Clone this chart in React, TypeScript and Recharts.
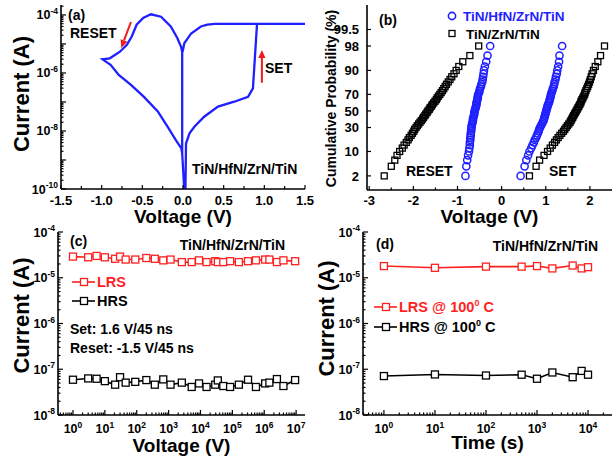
import React from 'react';
import {
  LineChart,
  Line,
  ScatterChart,
  Scatter,
  XAxis,
  YAxis,
  Legend,
  ReferenceLine,
} from 'recharts';

const FONT = '"Liberation Sans", Arial, Helvetica, sans-serif';
const BLUE = '#1f1fff';
const RED = '#ff1f1f';
const ARROW_RED = '#ee1c1c';
const AXIS = { stroke: '#000', strokeWidth: 1.6 };

// (a) I-V sweep, points in sweep order
const ivVoltage = [
  -0.01, -0.01, -0.025, -0.07, -0.15, -0.27, -0.395, -0.49, -0.57, -0.63, -0.69, -0.775, -0.9, -0.99,
  -0.89, -0.79, -0.64, -0.48, -0.31, -0.19, -0.09, -0.02, -0.01, 0.015, 0.03, 0.037, 0.08, 0.14, 0.26,
  0.43, 0.63, 0.8, 0.86, 0.91, 1.5, 0.39, 0.3, 0.22, 0.1, 0.016, -0.005,
];
const ivCurrent = [
  1.7e-9, 5.4e-6, 8.1e-6, 1.6e-5, 4e-5, 8.7e-5, 1.05e-4, 7.8e-5, 4.6e-5, 1.8e-5, 9.3e-6, 5.4e-6, 3.2e-6, 2.95e-6,
  1.9e-6, 8.5e-7, 3.9e-7, 1.5e-7, 4.7e-8, 1.4e-8, 4.9e-9, 2.5e-9, 1.7e-9, 1e-10, 1e-10, 3.7e-9, 8.3e-9, 1.4e-8, 3.1e-8,
  6.9e-8, 1.02e-7, 1.5e-7, 2.95e-7, 4.9e-5, 4.9e-5, 4.9e-5, 4.6e-5, 4e-5, 2.3e-5, 1.05e-5, 5.4e-6,
];
const aXMajor = [-1.5, -1, -0.5, 0, 0.5, 1, 1.5];
const aXLabels = ['-1.5', '-1.0', '-0.5', '0.0', '0.5', '1.0', '1.5'];
const aYLabelExp = [-10, -8, -6, -4];

// (b) cumulative probability (%) of switching voltages
const cumProb = [
  2, 4, 6, 8, 10, 12, 14, 16, 18, 20, 22, 24, 26, 28, 30, 32, 34, 36, 38, 40, 42, 44, 46, 48, 50,
  52, 54, 56, 58, 60, 62, 64, 66, 68, 70, 72, 74, 76, 78, 80, 82, 84, 86, 88, 90, 92, 94, 96, 98,
];
const hfnReset = [
  -0.82, -0.8, -0.78, -0.76, -0.74, -0.73, -0.72, -0.72, -0.71, -0.71, -0.7, -0.7, -0.69, -0.69, -0.68, -0.68, -0.67,
  -0.66, -0.65, -0.65, -0.64, -0.63, -0.62, -0.62, -0.61, -0.6, -0.59, -0.58, -0.57, -0.57, -0.56, -0.55, -0.54,
  -0.54, -0.53, -0.51, -0.5, -0.49, -0.47, -0.46, -0.44, -0.43, -0.42, -0.41, -0.4, -0.38, -0.35, -0.32, -0.26,
];
const hfnSet = [
  0.43, 0.52, 0.56, 0.6, 0.63, 0.67, 0.7, 0.73, 0.75, 0.78, 0.8, 0.82, 0.84, 0.85, 0.87, 0.89, 0.91, 0.93, 0.95,
  0.96, 0.97, 0.98, 0.99, 1.0, 1.01, 1.02, 1.03, 1.04, 1.05, 1.07, 1.08, 1.09, 1.1, 1.11, 1.12, 1.13, 1.15, 1.16,
  1.18, 1.19, 1.2, 1.22, 1.23, 1.25, 1.26, 1.28, 1.3, 1.31, 1.37,
];
const zrnReset = [
  -2.66, -2.5, -2.42, -2.37, -2.31, -2.25, -2.21, -2.16, -2.12, -2.09, -2.05, -2.02, -1.99, -1.97, -1.94, -1.91,
  -1.88, -1.85, -1.82, -1.79, -1.77, -1.74, -1.72, -1.69, -1.67, -1.64, -1.62, -1.59, -1.57, -1.54, -1.51, -1.48,
  -1.46, -1.43, -1.4, -1.37, -1.34, -1.31, -1.28, -1.25, -1.21, -1.17, -1.13, -1.08, -1.03, -0.97, -0.88, -0.72, -0.52,
];
const zrnSet = [
  0.63, 0.78, 0.86, 0.96, 1.04, 1.1, 1.15, 1.2, 1.24, 1.28, 1.32, 1.36, 1.4, 1.43, 1.46, 1.49, 1.52, 1.55, 1.57,
  1.59, 1.61, 1.63, 1.65, 1.67, 1.69, 1.71, 1.73, 1.75, 1.77, 1.79, 1.8, 1.82, 1.84, 1.86, 1.88, 1.89, 1.91, 1.93,
  1.95, 1.97, 1.99, 2.01, 2.03, 2.05, 2.08, 2.12, 2.18, 2.24, 2.33,
];
const probTicks = [2, 10, 30, 50, 70, 90, 98, 99.5];
const probTickLabels = ['2', '10', '30', '50', '70', '90', '98', '99.5'];
const bXMajor = [-3, -2, -1, 0, 1, 2];
const bXLabels = ['-3', '-2', '-1', '0', '1', '2'];

// (c) endurance
const cycles = [
  1, 3, 5.5, 10, 21, 30, 45, 90, 200, 370, 680, 1150, 2600, 5300, 9000, 15500, 29000, 35000, 52000, 85000,
  160000, 310000, 550000, 1070000, 1450000, 2500000, 4000000, 9300000,
];
const enduranceLrs = [
  2.9e-5, 2.8e-5, 3.0e-5, 2.8e-5, 2.6e-5, 2.9e-5, 2.5e-5, 2.5e-5, 2.7e-5, 2.6e-5, 2.4e-5, 2.5e-5, 2.2e-5, 2.2e-5,
  2.4e-5, 2.2e-5, 2.3e-5, 2.2e-5, 2.2e-5, 2.3e-5, 2.2e-5, 2.3e-5, 2.4e-5, 2.5e-5, 2.5e-5, 2.2e-5, 2.4e-5, 2.3e-5,
];
const enduranceHrs = [
  5.9e-8, 6.3e-8, 6.2e-8, 5.5e-8, 4.6e-8, 6.7e-8, 5.1e-8, 5.3e-8, 5.8e-8, 4.6e-8, 6.0e-8, 4.6e-8, 5.1e-8, 4.1e-8,
  4.9e-8, 4.1e-8, 4.6e-8, 5.7e-8, 4.3e-8, 4.1e-8, 4.6e-8, 5.9e-8, 4.1e-8, 4.9e-8, 5.1e-8, 6.1e-8, 4.3e-8, 5.8e-8,
];

// (d) retention at 100 C
const retentionTime = [1, 10, 100, 500, 1000, 2000, 5000, 7500, 10000];
const retentionLrs = [1.8e-5, 1.65e-5, 1.75e-5, 1.75e-5, 1.8e-5, 1.6e-5, 1.85e-5, 1.6e-5, 1.7e-5];
const retentionHrs = [7.1e-8, 7.7e-8, 7.3e-8, 7.6e-8, 6.2e-8, 8.5e-8, 6.7e-8, 9.2e-8, 7.6e-8];

// inverse normal CDF (probability axis)
function probit(p: number): number {
  const a = [-39.69683028665376, 220.9460984245205, -275.9285104469687, 138.357751867269, -30.66479806614716, 2.506628277459239];
  const b = [-54.47609879822406, 161.5858368580409, -155.6989798598866, 66.80131188771972, -13.28068155305798];
  const c = [-0.007784894002430293, -0.3223964580411365, -2.400758277161838, -2.549732539343734, 4.374664141464968, 2.938163982698783];
  const d = [0.007784695709041462, 0.3224671290700398, 2.445134137142996, 3.754408661907416];
  const lo = 0.02425;
  if (p < lo) {
    const q = Math.sqrt(-2 * Math.log(p));
    return (((((c[0] * q + c[1]) * q + c[2]) * q + c[3]) * q + c[4]) * q + c[5]) / ((((d[0] * q + d[1]) * q + d[2]) * q + d[3]) * q + 1);
  }
  if (p <= 1 - lo) {
    const q = p - 0.5;
    const r = q * q;
    return ((((((a[0] * r + a[1]) * r + a[2]) * r + a[3]) * r + a[4]) * r + a[5]) * q) /
      (((((b[0] * r + b[1]) * r + b[2]) * r + b[3]) * r + b[4]) * r + 1);
  }
  const q = Math.sqrt(-2 * Math.log(1 - p));
  return -(((((c[0] * q + c[1]) * q + c[2]) * q + c[3]) * q + c[4]) * q + c[5]) / ((((d[0] * q + d[1]) * q + d[2]) * q + d[3]) * q + 1);
}

const isDecade = (v: number) => Math.abs(Math.log10(v) - Math.round(Math.log10(v))) < 1e-6;
const logTicks = (lo: number, hi: number, min: number, max: number) => {
  const out: number[] = [];
  for (let e = lo; e <= hi; e++) for (let m = 1; m < 10; m++) out.push(m * Math.pow(10, e));
  return out.filter((t) => t >= min * 0.9999 && t <= max * 1.0001);
};
const withHalves = (major: number[], step: number) =>
  major.flatMap((t, i) => (i < major.length - 1 ? [t, t + step] : [t]));

const pow10 = (v: number) => (
  <>
    10
    <tspan dy={-5.5} fontSize={8.5}>
      {Math.round(Math.log10(v))}
    </tspan>
  </>
);

type Side = 'left' | 'right' | 'top' | 'bottom';
interface TickCfg {
  side: Side;
  major: (v: number) => boolean;
  label?: (v: number) => React.ReactNode | null;
  majorLen?: number;
  minorLen?: number;
  gap?: number;
  fontSize?: number;
}

const makeTick = (cfg: TickCfg) => (props: any) => {
  const { x, y, payload } = props;
  const v = payload.value;
  const big = cfg.major(v);
  const len = big ? cfg.majorLen ?? 5 : cfg.minorLen ?? 2.5;
  const dx = cfg.side === 'left' ? len : cfg.side === 'right' ? -len : 0;
  const dy = cfg.side === 'top' ? len : cfg.side === 'bottom' ? -len : 0;
  const lab = big && cfg.label ? cfg.label(v) : null;
  const fs = cfg.fontSize ?? 13;
  const gap = cfg.gap ?? 3;
  return (
    <g>
      <line x1={x} y1={y} x2={x + dx} y2={y + dy} stroke="#000" strokeWidth={1.2} />
      {lab != null && cfg.side === 'left' && (
        <text x={x - gap} y={y + fs * 0.36} textAnchor="end" fontFamily={FONT} fontWeight="bold" fontSize={fs} fill="#000">
          {lab}
        </text>
      )}
      {lab != null && cfg.side === 'bottom' && (
        <text x={x} y={y + gap} textAnchor="middle" fontFamily={FONT} fontWeight="bold" fontSize={fs} fill="#000">
          {lab}
        </text>
      )}
    </g>
  );
};

const yTitle = (text: string, cx: number, dy: number, size: number) => (props: any) => {
  const vb = props.viewBox;
  const x = vb.x + cx;
  const y = vb.y + vb.height / 2 + dy;
  return (
    <text x={x} y={y} transform={`rotate(-90 ${x} ${y})`} textAnchor="middle" dominantBaseline="central"
      fontFamily={FONT} fontWeight="bold" fontSize={size} fill="#000">
      {text}
    </text>
  );
};

const xTitle = (text: string, dx: number, baseline: number, size: number) => (props: any) => {
  const vb = props.viewBox;
  return (
    <text x={vb.x + vb.width / 2 + dx} y={vb.y + baseline} textAnchor="middle" fontFamily={FONT} fontWeight="bold"
      fontSize={size} fill="#000">
      {text}
    </text>
  );
};

const arrowShape = (p: any) => {
  const { x1, y1, x2, y2 } = p;
  const ang = Math.atan2(y2 - y1, x2 - x1);
  const L = 8;
  const W = 3.6;
  const bx = x2 - L * Math.cos(ang);
  const by = y2 - L * Math.sin(ang);
  const px = -Math.sin(ang) * W;
  const py = Math.cos(ang) * W;
  return (
    <g>
      <line x1={x1} y1={y1} x2={bx} y2={by} stroke={ARROW_RED} strokeWidth={2} />
      <polygon points={`${x2},${y2} ${bx + px},${by + py} ${bx - px},${by - py}`} fill={ARROW_RED} />
    </g>
  );
};

function PanelA() {
  const data = ivVoltage.map((v, i) => ({ v, i: ivCurrent[i] }));
  const xTicks = withHalves(aXMajor, 0.25);
  const yTicks = logTicks(-10, -4, 1e-10, 2.2e-4);
  const isXMajor = (v: number) => aXMajor.includes(v);
  const xLab = (v: number) => aXLabels[aXMajor.indexOf(v)];
  const yLab = (v: number) => (aYLabelExp.includes(Math.round(Math.log10(v))) ? pow10(v) : null);
  return (
    <div style={{ position: 'absolute', left: 0, top: 0 }}>
      <LineChart width={320} height={228} data={data} margin={{ top: 5, right: 15, bottom: 0, left: 0 }}>
        <XAxis dataKey="v" type="number" domain={[-1.5, 1.5]} allowDataOverflow ticks={xTicks} interval={0}
          tickSize={0} tickMargin={0} tickLine={false} height={39} axisLine={AXIS}
          tick={makeTick({ side: 'bottom', major: isXMajor, label: xLab, majorLen: 4, minorLen: 3, gap: 16 })}
          label={xTitle('Voltage (V)', 0, 34, 19)} />
        <XAxis xAxisId="top" orientation="top" type="number" domain={[-1.5, 1.5]} allowDataOverflow ticks={xTicks}
          interval={0} tickSize={0} tickMargin={0} tickLine={false} height={0} axisLine={AXIS}
          tick={makeTick({ side: 'top', major: isXMajor, majorLen: 4, minorLen: 3 })} />
        <YAxis type="number" scale="log" domain={[1e-10, 2.2e-4]} allowDataOverflow ticks={yTicks} interval={0}
          tickSize={0} tickMargin={0} tickLine={false} width={61} axisLine={AXIS}
          tick={makeTick({ side: 'left', major: isDecade, label: yLab, fontSize: 12.5, gap: 3 })}
          label={yTitle('Current (A)', 21, -3, 22)} />
        <YAxis yAxisId="right" orientation="right" type="number" scale="log" domain={[1e-10, 2.2e-4]} allowDataOverflow
          ticks={yTicks} interval={0} tickSize={0} tickMargin={0} tickLine={false} width={0} axisLine={AXIS}
          tick={makeTick({ side: 'right', major: isDecade })} />
        <Line dataKey="i" type="linear" stroke={BLUE} strokeWidth={2.3} dot={false} isAnimationActive={false} />
        <ReferenceLine segment={[{ x: -0.64, y: 5.7e-5 }, { x: -0.76, y: 7.3e-6 }]} shape={arrowShape} />
        <ReferenceLine segment={[{ x: 0.97, y: 4.6e-7 }, { x: 0.97, y: 6.2e-6 }]} shape={arrowShape} />
      </LineChart>
    </div>
  );
}

const seriesB: Record<string, { marker: 'circle' | 'square'; color: string; order: number }> = {
  'TiN/HfN/ZrN/TiN': { marker: 'circle', color: BLUE, order: 0 },
  'TiN/ZrN/TiN': { marker: 'square', color: '#000', order: 1 },
};

const legendB = (props: any) => {
  const items = [...(props.payload ?? [])].sort((a: any, b: any) => seriesB[a.value].order - seriesB[b.value].order);
  return (
    <svg width={170} height={40} style={{ display: 'block', overflow: 'visible' }}>
      {items.map((e: any, i: number) => {
        const s = seriesB[e.value];
        const y = 11 + i * 17.5;
        return (
          <g key={e.value}>
            {s.marker === 'circle' ? (
              <circle cx={7} cy={y} r={3.6} fill="none" stroke={s.color} strokeWidth={1.6} />
            ) : (
              <rect x={4} y={y - 3} width={6} height={6} fill="none" stroke={s.color} strokeWidth={1.3} />
            )}
            <text x={18 + i * 3} y={y + 5} fontFamily={FONT} fontWeight="bold" fontSize={13.5} fill={s.color}>
              {e.value}
            </text>
          </g>
        );
      })}
    </svg>
  );
};

function PanelB() {
  const toPoints = (volts: number[]) => volts.map((v, i) => ({ v, z: probit(cumProb[i] / 100) }));
  const hfn = [...toPoints(hfnReset), ...toPoints(hfnSet)];
  const zrn = [...toPoints(zrnReset), ...toPoints(zrnSet)];
  const xTicks = withHalves(bXMajor, 0.5);
  const yTicks = probTicks.map((p) => probit(p / 100));
  const isXMajor = (v: number) => bXMajor.includes(v);
  const xLab = (v: number) => bXLabels[bXMajor.indexOf(v)];
  const yLab = (v: number) => {
    const i = yTicks.findIndex((t) => Math.abs(t - v) < 1e-6);
    return i >= 0 ? probTickLabels[i] : null;
  };
  const domX: [number, number] = [-3.05, 2.5];
  const domY: [number, number] = [-2.5, 3.35];
  return (
    <div style={{ position: 'absolute', left: 305, top: 0 }}>
      <ScatterChart width={310} height={228} margin={{ top: 5, right: 3, bottom: 0, left: 0 }}>
        <XAxis dataKey="v" type="number" domain={domX} allowDataOverflow ticks={xTicks} interval={0} tickSize={0}
          tickMargin={0} tickLine={false} height={38} axisLine={AXIS}
          tick={makeTick({ side: 'bottom', major: isXMajor, label: xLab, majorLen: 4, minorLen: 2.5, gap: 15 })}
          label={xTitle('Voltage (V)', 0, 33, 19)} />
        <XAxis xAxisId="top" orientation="top" type="number" domain={domX} allowDataOverflow ticks={xTicks} interval={0}
          tickSize={0} tickMargin={0} tickLine={false} height={0} axisLine={AXIS}
          tick={makeTick({ side: 'top', major: isXMajor, majorLen: 4, minorLen: 2.5 })} />
        <YAxis dataKey="z" type="number" domain={domY} allowDataOverflow ticks={yTicks} interval={0} tickSize={0}
          tickMargin={0} tickLine={false} width={62} axisLine={AXIS}
          tick={makeTick({ side: 'left', major: () => true, label: yLab, majorLen: 4, gap: 8 })}
          label={yTitle('Cumulative Probability (%)', 26, 1, 14)} />
        <YAxis yAxisId="right" orientation="right" type="number" domain={domY} allowDataOverflow ticks={yTicks}
          interval={0} tickSize={0} tickMargin={0} tickLine={false} width={0} axisLine={AXIS}
          tick={makeTick({ side: 'right', major: () => true, majorLen: 4 })} />
        <Scatter name="TiN/HfN/ZrN/TiN" data={hfn} fill={BLUE} isAnimationActive={false}
          shape={(p: any) => <circle cx={p.cx} cy={p.cy} r={3.6} fill="none" stroke={BLUE} strokeWidth={1.5} />} />
        <Scatter name="TiN/ZrN/TiN" data={zrn} fill="#000" isAnimationActive={false}
          shape={(p: any) => (
            <rect x={p.cx - 3} y={p.cy - 3} width={6} height={6} fill="none" stroke="#000" strokeWidth={1.3} />
          )} />
        <Legend layout="vertical" align="center" verticalAlign="middle" content={legendB}
          wrapperStyle={{ left: 140, top: 5, width: 170, height: 40 }} />
      </ScatterChart>
    </div>
  );
}

const lineLegend = (order: string[], rowGap: number) => (props: any) => {
  const items = [...(props.payload ?? [])].sort((a: any, b: any) => order.indexOf(a.value) - order.indexOf(b.value));
  return (
    <svg width={200} height={46} style={{ display: 'block', overflow: 'visible' }}>
      {items.map((e: any, i: number) => {
        const y = 12 + i * rowGap;
        const parts = String(e.value).split('⁰');
        return (
          <g key={e.value}>
            <line x1={2} y1={y} x2={25} y2={y} stroke={e.color} strokeWidth={1.6} />
            <rect x={10.5} y={y - 3.5} width={7} height={7} fill="#fff" stroke={e.color} strokeWidth={1.3} />
            <text x={27} y={y + 5} fontFamily={FONT} fontWeight="bold" fontSize={14.5} fill={e.color}>
              {parts[0]}
              {parts.length > 1 && (
                <>
                  <tspan dy={-6} fontSize={9}>0</tspan>
                  <tspan dy={6}>{parts[1]}</tspan>
                </>
              )}
            </text>
          </g>
        );
      })}
    </svg>
  );
};

const squareDot = (color: string) => (p: any) => (
  <rect key={`d${p.index}`} x={p.cx - 3.5} y={p.cy - 3.5} width={7} height={7} fill="#fff" stroke={color}
    strokeWidth={1.3} />
);

interface LogPanelProps {
  left: number;
  xs: number[];
  lrs: number[];
  hrs: number[];
  lrsName: string;
  hrsName: string;
  xDomain: [number, number];
  xExp: [number, number];
  xTitleText: string;
  titleBaseline: number;
  marginRight: number;
  legendPos: { left: number; top: number };
  rowGap: number;
  yTitleDy: number;
}

const PANEL_TOP = 212;

function LogPanel(p: LogPanelProps) {
  const data = p.xs.map((t, i) => ({ t, lrs: p.lrs[i], hrs: p.hrs[i] }));
  const xTicks = logTicks(p.xExp[0] - 1, p.xExp[1] + 1, p.xDomain[0], p.xDomain[1]);
  const yTicks = logTicks(-8, -4, 1e-8, 1e-4);
  const yDom: [number, number] = [1e-8, 1e-4];
  return (
    <div style={{ position: 'absolute', left: p.left, top: PANEL_TOP }}>
      <LineChart width={310} height={462 - PANEL_TOP} data={data}
        margin={{ top: 232 - PANEL_TOP, right: p.marginRight, bottom: 0, left: 0 }}>
        <XAxis dataKey="t" type="number" scale="log" domain={p.xDomain} allowDataOverflow ticks={xTicks} interval={0}
          tickSize={0} tickMargin={0} tickLine={false} height={47} axisLine={AXIS}
          tick={makeTick({ side: 'bottom', major: isDecade, label: pow10, fontSize: 12.5, gap: 18 })}
          label={xTitle(p.xTitleText, 0, p.titleBaseline, 19)} />
        <XAxis xAxisId="top" orientation="top" type="number" scale="log" domain={p.xDomain} allowDataOverflow
          ticks={xTicks} interval={0} tickSize={0} tickMargin={0} tickLine={false} height={0} axisLine={AXIS}
          tick={makeTick({ side: 'top', major: isDecade })} />
        <YAxis type="number" scale="log" domain={yDom} allowDataOverflow ticks={yTicks} interval={0} tickSize={0}
          tickMargin={0} tickLine={false} width={58} axisLine={AXIS}
          tick={makeTick({ side: 'left', major: isDecade, label: pow10, fontSize: 12.5, gap: 3 })}
          label={yTitle('Current (A)', 21, p.yTitleDy, 22)} />
        <YAxis yAxisId="right" orientation="right" type="number" scale="log" domain={yDom} allowDataOverflow
          ticks={yTicks} interval={0} tickSize={0} tickMargin={0} tickLine={false} width={0} axisLine={AXIS}
          tick={makeTick({ side: 'right', major: isDecade })} />
        <Line name={p.lrsName} dataKey="lrs" type="linear" stroke={RED} strokeWidth={1.6} dot={squareDot(RED)}
          isAnimationActive={false} />
        <Line name={p.hrsName} dataKey="hrs" type="linear" stroke="#000" strokeWidth={1.6} dot={squareDot('#000')}
          isAnimationActive={false} />
        <Legend layout="vertical" align="center" verticalAlign="middle"
          content={lineLegend([p.lrsName, p.hrsName], p.rowGap)}
          wrapperStyle={{ left: p.legendPos.left, top: p.legendPos.top - PANEL_TOP, width: 200, height: 46 }} />
      </LineChart>
    </div>
  );
}

const notes: { x: number; y: number; text: string; anchor?: 'start' | 'end' }[] = [
  { x: 68, y: 20, text: '(a)' },
  { x: 70, y: 38, text: 'RESET' },
  { x: 265, y: 73, text: 'SET' },
  { x: 192, y: 174, text: 'TiN/HfN/ZrN/TiN' },
  { x: 379, y: 25, text: '(b)' },
  { x: 406, y: 176, text: 'RESET' },
  { x: 549, y: 176, text: 'SET' },
  { x: 70, y: 246, text: '(c)' },
  { x: 285, y: 250, text: 'TiN/HfN/ZrN/TiN', anchor: 'end' },
  { x: 70, y: 334, text: 'Set: 1.6 V/45 ns' },
  { x: 70, y: 353, text: 'Reset: -1.5 V/45 ns' },
  { x: 376, y: 249, text: '(d)' },
  { x: 598, y: 251, text: 'TiN/HfN/ZrN/TiN', anchor: 'end' },
];

export default function App() {
  return (
    <div style={{ position: 'absolute', left: 0, top: 0, width: 615, height: 462, background: '#fff', overflow: 'hidden' }}>
      <PanelA />
      <PanelB />
      <LogPanel left={0} xs={cycles} lrs={enduranceLrs} hrs={enduranceHrs} lrsName="LRS" hrsName="HRS"
        xDomain={[0.339, 1.9e7]} xExp={[0, 7]} xTitleText="Voltage (V)" titleBaseline={37} marginRight={5}
        legendPos={{ left: 70, top: 270 }} rowGap={19} yTitleDy={-8} />
      <LogPanel left={305} xs={retentionTime} lrs={retentionLrs} hrs={retentionHrs} lrsName="LRS @ 100⁰ C"
        hrsName="HRS @ 100⁰ C" xDomain={[0.389, 29500]} xExp={[0, 4]} xTitleText="Time (s)" titleBaseline={34}
        marginRight={3} legendPos={{ left: 67, top: 295 }} rowGap={20} yTitleDy={-5} />
      <svg width={615} height={462} style={{ position: 'absolute', left: 0, top: 0, pointerEvents: 'none' }}>
        {notes.map((n) => (
          <text key={`${n.x}-${n.y}`} x={n.x} y={n.y} textAnchor={n.anchor ?? 'start'} fontFamily={FONT}
            fontWeight="bold" fontSize={14} fill="#000">
            {n.text}
          </text>
        ))}
      </svg>
    </div>
  );
}
